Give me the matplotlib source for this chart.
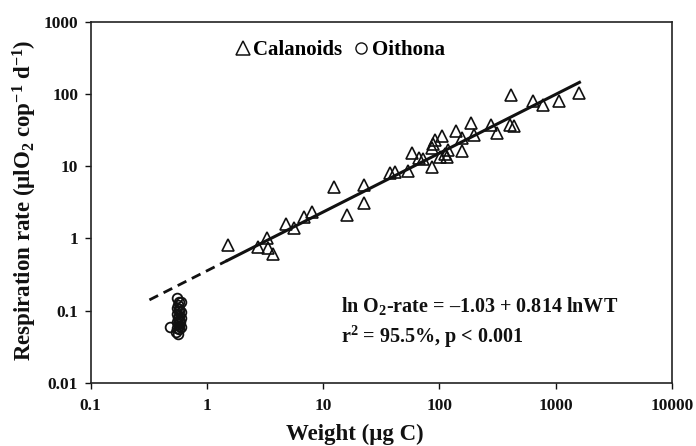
import numpy as np
import matplotlib
matplotlib.use("Agg")
import matplotlib.pyplot as plt
from matplotlib.lines import Line2D

plt.rcParams['font.family'] = ['Liberation Serif', 'DejaVu Serif']
plt.rcParams['font.weight'] = 'bold'
plt.rcParams['mathtext.fontset'] = 'custom'
plt.rcParams['mathtext.rm'] = 'Liberation Serif:bold'
plt.rcParams['mathtext.it'] = 'Liberation Serif:bold'
plt.rcParams['mathtext.bf'] = 'Liberation Serif:bold'
plt.rcParams['mathtext.default'] = 'rm'

# Calanoids (weight ug C, respiration ulO2/cop/d)
cal_w = [1.53, 2.77, 3.27, 3.37, 3.68, 4.8, 5.65, 6.9, 7.97, 12.4, 15.96, 22.5, 22.5,
         37.7, 41.6, 54, 58.6, 67.3, 72.8, 86, 86, 88, 91.9, 101, 105, 112, 116, 119.5,
         139, 156, 156, 186, 200, 279, 312, 406, 411, 434, 637, 776, 1057, 1571]
cal_r = [0.81, 0.77, 1.0, 0.73, 0.61, 1.57, 1.41, 1.96, 2.30, 5.09, 2.11, 3.12, 5.48,
         7.94, 8.4, 8.55, 15.3, 13.2, 12.4, 9.8, 17.6, 20.4, 23, 13.5, 26, 15, 13.5, 16.7,
         30.9, 24.3, 16.3, 39.8, 26.9, 37, 29, 37, 96, 36.2, 80, 70, 80, 101.6]

# Oithona
oit_w = [0.48, 0.55, 0.58, 0.56, 0.60, 0.55, 0.58, 0.57, 0.60, 0.55, 0.58, 0.56,
         0.60, 0.57, 0.55, 0.59, 0.56, 0.58, 0.55, 0.57, 0.54, 0.56, 0.60]
oit_r = [0.060, 0.150, 0.130, 0.120, 0.130, 0.110, 0.105, 0.100, 0.095, 0.090, 0.085,
         0.080, 0.080, 0.075, 0.070, 0.070, 0.065, 0.062, 0.058, 0.055, 0.050, 0.048, 0.060]

# Regression: ln O2-rate = -1.03 + 0.814 lnWT
intercept = -1.03
slope = 0.814
fit_solid = [1.5, 1600]
fit_dashed = [0.32, 1.5]

xticks = [0.1, 1, 10, 100, 1000, 10000]
xticklabels = ['0.1', '1', '10', '100', '1000', '10000']
yticks = [0.01, 0.1, 1, 10, 100, 1000]
yticklabels = ['0.01', '0.1', '1', '10', '100', '1000']

fig = plt.figure(figsize=(6.96, 4.46), dpi=100)
ax = fig.add_axes([0.1303, 0.1413, 0.8352, 0.8100])
ax.set_xscale('log')
ax.set_yscale('log')
ax.set_xlim(0.1, 10000)
ax.set_ylim(0.01, 1000)

def fit(w):
    w = np.asarray(w, dtype=float)
    return np.exp(intercept + slope * np.log(w))

ws = np.geomspace(fit_dashed[0], fit_dashed[1], 20)
ax.plot(ws, fit(ws), color='#111111', lw=2.0, ls=(0, (3.5, 2.2)), zorder=2)
ws = np.geomspace(fit_solid[0], fit_solid[1], 50)
ax.plot(ws, fit(ws), color='#111111', lw=2.2, zorder=2)

ax.plot(oit_w, oit_r, ls='none', marker='o', ms=7, mfc='none', mec='#111111', mew=1.3, zorder=3)
ax.plot(cal_w, cal_r, ls='none', marker='^', ms=8.5, mfc='none', mec='#111111', mew=1.2, zorder=3)

ax.set_xticks(xticks)
ax.set_xticklabels(xticklabels)
ax.set_yticks(yticks)
ax.set_yticklabels(yticklabels)
ax.minorticks_off()
ax.tick_params(axis='both', which='major', direction='out', length=4, width=1.0,
               labelsize=12.5, colors='#111111')
ax.tick_params(axis='x', pad=7)
ax.tick_params(axis='y', pad=5)
for s in ax.spines.values():
    s.set_linewidth(1.2)
    s.set_color('#222222')

fig.text(355 / 696, 1 - 434 / 446, 'Weight (μg C)', ha='center', va='center',
         fontsize=16.5, fontweight='bold', color='#111111')
fig.text(25 / 696, 1 - 200 / 446, 'Respiration rate (μlO$_2$ cop$^{-1}$ d$^{-1}$)',
         ha='center', va='center', rotation=90, fontsize=16.5, fontweight='bold', color='#111111')

handles = [Line2D([], [], ls='none', marker='^', ms=9.5, mfc='none', mec='#111111', mew=1.1),
           Line2D([], [], ls='none', marker='o', ms=8, mfc='none', mec='#111111', mew=1.0)]
ax.legend(handles, ['Calanoids', 'Oithona'], ncol=2, frameon=False, loc='center',
          bbox_to_anchor=(0.43, 0.922), handlelength=0.6, handletextpad=0.2,
          columnspacing=0.6, prop={'family': 'Liberation Serif', 'weight': 'bold', 'size': 15})

ax.text(0.43, (383 - 306.5) / 361.3, 'ln O$_2$-rate = \u20131.03 + 0.814 lnWT',
        transform=ax.transAxes, ha='left', va='center', fontsize=14.5, fontweight='bold', color='#111111')
ax.text(0.43, (383 - 337) / 361.3, 'r$^2$ = 95.5%, p < 0.001',
        transform=ax.transAxes, ha='left', va='center', fontsize=14.5, fontweight='bold', color='#111111')

fig.savefig('out.png', dpi=100)
